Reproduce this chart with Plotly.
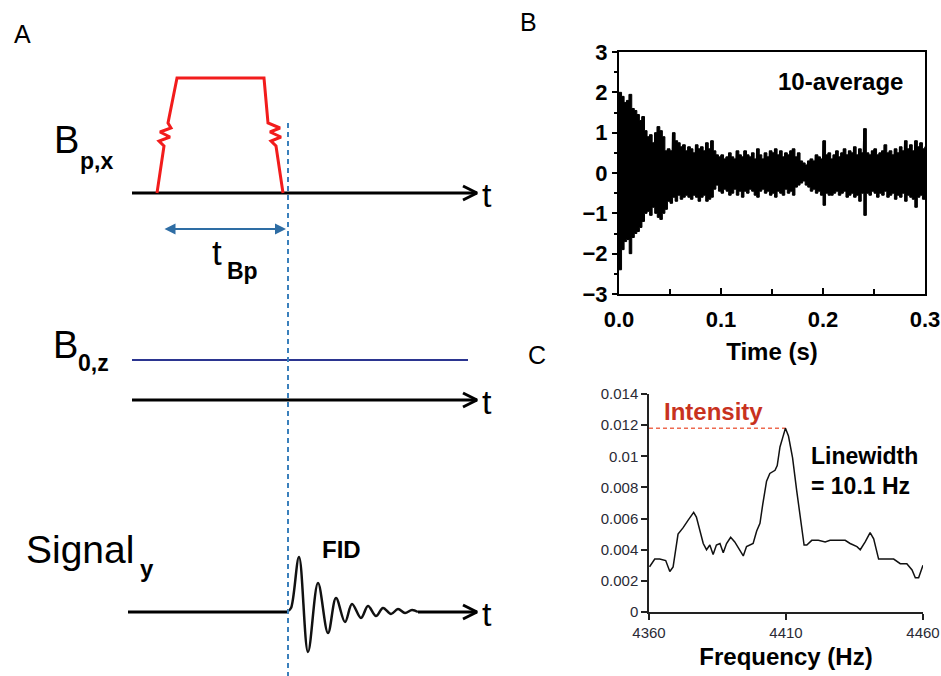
import numpy as np
import plotly.graph_objects as go

FONT = "Liberation Sans, Arial, sans-serif"

# ---------------- Panel B data: 10-average FID (upper / lower extremes every 2.5 ms) -------------
fid_t_step = 0.0025
fid_upper = [2.0, 1.9, 1.75, 1.8, 1.95, 1.6, 1.55, 1.45, 1.3, 1.4,
             1.05, 0.9, 0.95, 0.75, 1.0, 1.15, 1.05, 0.9, 0.55, 0.6,
             0.55, 1.0, 0.8, 0.75, 0.65, 0.7, 0.55, 0.65, 0.6, 0.5,
             0.7, 0.6, 0.65, 0.55, 0.75, 0.6, 0.8, 0.55, 0.45, 0.4,
             0.45, 0.35, 0.4, 0.5, 0.4, 0.35, 0.55, 0.45, 0.4, 0.55,
             0.45, 0.4, 0.5, 0.35, 0.6, 0.45, 0.35, 0.5, 0.4, 0.55,
             0.5, 0.6, 0.45, 0.55, 0.4, 0.5, 0.45, 0.55, 0.6, 0.4,
             0.5, 0.3, 0.25, 0.2, 0.3, 0.35, 0.3, 0.45, 0.4, 0.35,
             0.8, 0.45, 0.5, 0.35, 0.45, 0.55, 0.4, 0.5, 0.6, 0.45,
             0.55, 0.5, 0.65, 0.45, 0.6, 0.5, 1.1, 0.5, 0.45, 0.55,
             0.6, 0.45, 0.5, 0.55, 0.7, 0.5, 0.55, 0.45, 0.6, 0.5,
             0.65, 0.55, 0.8, 0.6, 0.7, 0.55, 0.8, 0.65, 0.75, 0.6,
             0.65]
fid_lower = [-2.4, -1.9, -1.7, -1.65, -2.0, -1.6, -1.5, -1.45, -1.35, -1.2,
             -1.0, -0.95, -1.05, -0.85, -1.0, -1.1, -1.15, -1.0, -0.9, -0.7,
             -0.75, -0.6, -0.7, -0.55, -0.65, -0.6, -0.55, -0.6, -0.65, -0.55,
             -0.6, -0.7, -0.6, -0.55, -0.7, -0.65, -0.6, -0.4, -0.3, -0.45,
             -0.5, -0.4, -0.45, -0.55, -0.5, -0.4, -0.55, -0.45, -0.6, -0.45,
             -0.5, -0.4, -0.45, -0.55, -0.6, -0.45, -0.4, -0.5, -0.45, -0.55,
             -0.5, -0.6, -0.45, -0.5, -0.55, -0.4, -0.5, -0.45, -0.55, -0.35,
             -0.3, -0.25, -0.2, -0.3, -0.35, -0.45, -0.4, -0.5, -0.45, -0.55,
             -0.8, -0.5, -0.55, -0.55, -0.5, -0.45, -0.55, -0.5, -0.45, -0.6,
             -0.55, -0.5, -0.6, -0.55, -0.7, -0.5, -1.05, -0.5, -0.55, -0.45,
             -0.5, -0.6, -0.5, -0.55, -0.45, -0.6, -0.55, -0.5, -0.65, -0.55,
             -0.6, -0.5, -0.7, -0.55, -0.6, -0.65, -0.85, -0.6, -0.55, -0.65,
             -0.6]
time_ticks = [0.0, 0.1, 0.2, 0.3]
time_ticktext = ["0.0", "0.1", "0.2", "0.3"]

# ---------------- Panel C data: spectrum -------------
freq_hz = [4360.2, 4362.1, 4363.9, 4366.1, 4367.6, 4368.8, 4370.6, 4372.4, 4374.3, 4376.3,
           4377.3, 4378.5, 4379.8, 4381.0, 4382.2, 4383.4, 4384.6, 4385.9, 4387.1, 4388.3,
           4389.8, 4391.3, 4392.6, 4394.4, 4395.6, 4398.0, 4399.3, 4400.5, 4401.5, 4402.9,
           4404.1, 4406.0, 4406.8, 4407.8, 4408.8, 4409.8, 4410.9, 4412.4, 4413.9, 4415.4,
           4416.6, 4417.6, 4419.4, 4421.8, 4424.3, 4426.1, 4428.5, 4431.6, 4433.4, 4435.9,
           4437.1, 4438.9, 4440.7, 4442.0, 4443.8, 4445.6, 4449.3, 4451.7, 4454.1, 4456.0,
           4457.2, 4458.4, 4460.0]
amplitude = [0.0029, 0.0034, 0.0034, 0.0033, 0.0026, 0.0029, 0.0050, 0.0054, 0.0059, 0.0064,
             0.0061, 0.0052, 0.0044, 0.0040, 0.0043, 0.0037, 0.0043, 0.0044, 0.0038, 0.0044,
             0.0048, 0.0045, 0.0041, 0.0036, 0.0042, 0.0044, 0.0052, 0.0057, 0.0069, 0.0084,
             0.0089, 0.0091, 0.0094, 0.0106, 0.0112, 0.0118, 0.0113, 0.0099, 0.0078, 0.0059,
             0.0043, 0.0043, 0.0046, 0.0046, 0.0045, 0.0046, 0.0046, 0.0046, 0.0044, 0.0042,
             0.0040, 0.0045, 0.0051, 0.0047, 0.0034, 0.0034, 0.0034, 0.0031, 0.0031, 0.0027,
             0.0022, 0.0022, 0.0030]
peak_freq = 4410
peak_intensity = 0.0118
freq_ticks = [4360, 4410, 4460]
amp_ticks = [0, 0.002, 0.004, 0.006, 0.008, 0.01, 0.012, 0.014]
amp_ticktext = ["0", "0.002", "0.004", "0.006", "0.008", "0.01", "0.012", "0.014"]

# ---------------- Panel A schematic (drawn in a pixel-space helper axis) -------------
pulse_x = [157, 164, 159, 170, 160, 171, 168, 177, 264, 268, 280, 270, 281, 271, 276, 283]
pulse_y = [193, 146, 141, 137, 132, 128, 123, 78, 78, 123, 128, 132, 137, 141, 146, 193]
time_axis_rows = [193, 400, 612]
time_axis_start = [132, 132, 128]
time_axis_end = 477
b0_level = 360
b0_x = [132, 468]
pulse_end_x = 288
dashed_y = [123, 676]
tbp_arrow = [163, 286, 229]
fid_sketch_x = [288, 291, 299, 308, 318, 328, 336, 345, 352, 361, 368, 376, 383, 391, 398, 405, 412, 418]
fid_sketch_y = [611, 608, 557, 652, 583, 633, 598, 622, 604, 618, 606, 616, 608, 614, 609, 613, 610, 612]

fig = go.Figure()

BLACK = "#000000"
RED = "#F21C1C"
DASH_BLUE = "#3A80BC"
ARROW_BLUE = "#2E6DA4"
NAVY = "#2B3590"

# time axes with open chevron heads
for row, x0 in zip(time_axis_rows, time_axis_start):
    if row == time_axis_rows[2]:
        fig.add_trace(go.Scatter(x=[x0, fid_sketch_x[0]], y=[row, row], mode="lines",
                                 line=dict(color=BLACK, width=3),
                                 xaxis="x", yaxis="y", showlegend=False, hoverinfo="skip"))
        xs = [fid_sketch_x[-1], time_axis_end]
    else:
        xs = [x0, time_axis_end]
    fig.add_trace(go.Scatter(x=xs, y=[row, row], mode="lines", line=dict(color=BLACK, width=3),
                             xaxis="x", yaxis="y", showlegend=False, hoverinfo="skip"))
    fig.add_trace(go.Scatter(x=[time_axis_end - 14, time_axis_end, time_axis_end - 14],
                             y=[row - 7, row, row + 7], mode="lines",
                             line=dict(color=BLACK, width=3),
                             xaxis="x", yaxis="y", showlegend=False, hoverinfo="skip"))

# red pulse
fig.add_trace(go.Scatter(x=pulse_x, y=pulse_y, mode="lines", line=dict(color=RED, width=3),
                         xaxis="x", yaxis="y", showlegend=False, hoverinfo="skip"))
# B0 line
fig.add_trace(go.Scatter(x=b0_x, y=[b0_level, b0_level], mode="lines", line=dict(color=NAVY, width=2),
                         xaxis="x", yaxis="y", showlegend=False, hoverinfo="skip"))
# FID sketch
fig.add_trace(go.Scatter(x=fid_sketch_x, y=fid_sketch_y, mode="lines",
                         line=dict(color="#111111", width=2.5, shape="spline", smoothing=1.0),
                         xaxis="x", yaxis="y", showlegend=False, hoverinfo="skip"))
# dashed vertical line
fig.add_trace(go.Scatter(x=[pulse_end_x, pulse_end_x], y=dashed_y, mode="lines",
                         line=dict(color=DASH_BLUE, width=2, dash="5px,4px"),
                         xaxis="x", yaxis="y", showlegend=False, hoverinfo="skip"))

# ---------------- Panel B traces: filled envelope + fine trace -------------
t = np.arange(len(fid_upper)) * fid_t_step
fig.add_trace(go.Scatter(x=t, y=fid_upper, mode="lines", line=dict(color=BLACK, width=1, shape="hv"),
                         xaxis="x2", yaxis="y2", showlegend=False))
fig.add_trace(go.Scatter(x=t, y=fid_lower, mode="lines", line=dict(color=BLACK, width=1, shape="hv"),
                         fill="tonexty", fillcolor=BLACK,
                         xaxis="x2", yaxis="y2", showlegend=False))
bx, by = [], []
for ti, u, l in zip(t, fid_upper, fid_lower):
    bx += [ti, ti + fid_t_step / 2]
    by += [u, l]
fig.add_trace(go.Scatter(x=bx, y=by, mode="lines", line=dict(color=BLACK, width=1.2),
                         xaxis="x2", yaxis="y2", showlegend=False))

# ---------------- Panel C traces -------------
fig.add_trace(go.Scatter(x=[freq_ticks[0], peak_freq], y=[peak_intensity, peak_intensity], mode="lines",
                         line=dict(color="#EE6A50", width=1.6, dash="4px,3px"),
                         xaxis="x3", yaxis="y3", showlegend=False))
fig.add_trace(go.Scatter(x=freq_hz, y=amplitude, mode="lines", line=dict(color="#111111", width=1.5),
                         xaxis="x3", yaxis="y3", showlegend=False))

W, H = 941, 676


def px_dom_x(a, b):
    return [a / W, b / W]


def px_dom_y(top, bottom):
    return [(H - bottom) / H, (H - top) / H]


annotations = []


def txt(x, y, s, size, color=BLACK, bold=False, xanchor="center", yanchor="middle"):
    annotations.append(dict(x=x, y=y, xref="x", yref="y", text=s, showarrow=False,
                            xanchor=xanchor, yanchor=yanchor,
                            font=dict(family=FONT, size=size, color=color,
                                      weight="bold" if bold else "normal")))


# panel letters
txt(22, 34, "A", 25)
txt(528, 22, "B", 25)
txt(537, 355, "C", 25)
# panel A labels
txt(52, 140, "B", 38, xanchor="left")
txt(78, 161, "p,x", 23, bold=True, xanchor="left")
txt(51, 345, "B", 38, xanchor="left")
txt(76, 363, "0,z", 23, bold=True, xanchor="left")
txt(24, 549, "Signal", 39, xanchor="left")
txt(138, 568, "y", 24, bold=True, xanchor="left")
for row in time_axis_rows:
    txt(487, row + 2, "t", 34)
txt(217, 252, "t", 35)
txt(242, 271, "Bp", 23, bold=True)
txt(341, 549, "FID", 24, bold=True)
# panel B label
txt(840, 81, "10-average", 24, bold=True)
# panel C labels
txt(713, 411, "Intensity", 24, color="#C8321E", bold=True)
txt(809, 456, "Linewidth", 23, bold=True, xanchor="left")
txt(809, 486, "= 10.1 Hz", 23, bold=True, xanchor="left")

# tBp double arrow
annotations.append(dict(x=tbp_arrow[1], y=tbp_arrow[2], ax=tbp_arrow[0], ay=tbp_arrow[2],
                        xref="x", yref="y", axref="x", ayref="y", text="", showarrow=True,
                        arrowhead=2, arrowside="end+start", arrowsize=1.1, arrowwidth=2,
                        arrowcolor=ARROW_BLUE))

bold_tick = dict(family=FONT, size=22, color=BLACK, weight="bold")

fig.update_layout(
    width=W, height=H, margin=dict(l=0, r=0, t=0, b=0),
    paper_bgcolor="white", plot_bgcolor="rgba(0,0,0,0)",
    showlegend=False,
    xaxis=dict(domain=[0, 1], range=[0, W], visible=False, fixedrange=True),
    yaxis=dict(domain=[0, 1], range=[H, 0], visible=False, fixedrange=True),
    xaxis2=dict(domain=px_dom_x(619, 925), anchor="y2", range=[0, 0.3],
                tickvals=time_ticks, ticktext=time_ticktext, ticks="inside", ticklen=6,
                tickwidth=2, tickcolor=BLACK,
                minor=dict(dtick=0.05, ticks="inside", ticklen=5, tickwidth=1.5, tickcolor=BLACK),
                showline=True, linewidth=2, linecolor=BLACK, mirror=True,
                showgrid=False, zeroline=False, tickfont=bold_tick, ticklabelstandoff=5,
                title=dict(text="Time (s)", standoff=12,
                           font=dict(family=FONT, size=24, color=BLACK, weight="bold")),
                automargin=False),
    yaxis2=dict(domain=px_dom_y(52, 294), anchor="x2", range=[-3, 3],
                tickvals=[-3, -2, -1, 0, 1, 2, 3], ticks="outside", ticklen=5,
                tickwidth=2, tickcolor=BLACK,
                minor=dict(dtick=0.5, ticks="outside", ticklen=3, tickwidth=1.5, tickcolor=BLACK),
                showline=True, linewidth=2, linecolor=BLACK, mirror=True,
                showgrid=False, zeroline=False, tickfont=bold_tick, automargin=False),
    xaxis3=dict(domain=px_dom_x(649, 923), anchor="y3", range=[4360, 4460],
                tickvals=freq_ticks, ticks="outside", ticklen=6, tickwidth=1.5, tickcolor="#222222",
                showline=True, linewidth=1.5, linecolor="#222222",
                showgrid=False, zeroline=False,
                tickfont=dict(family=FONT, size=15, color="#2a2a35"),
                title=dict(text="Frequency (Hz)", standoff=8,
                           font=dict(family=FONT, size=24, color=BLACK, weight="bold")),
                automargin=False),
    yaxis3=dict(domain=px_dom_y(394, 612), anchor="x3", range=[0, 0.014],
                tickvals=amp_ticks, ticktext=amp_ticktext, ticks="outside", ticklen=6,
                tickwidth=1.5, tickcolor="#222222",
                showline=True, linewidth=1.5, linecolor="#222222",
                showgrid=False, zeroline=False,
                tickfont=dict(family=FONT, size=15, color="#2a2a35"), automargin=False),
    annotations=annotations,
)

fig.write_html("out.html")
